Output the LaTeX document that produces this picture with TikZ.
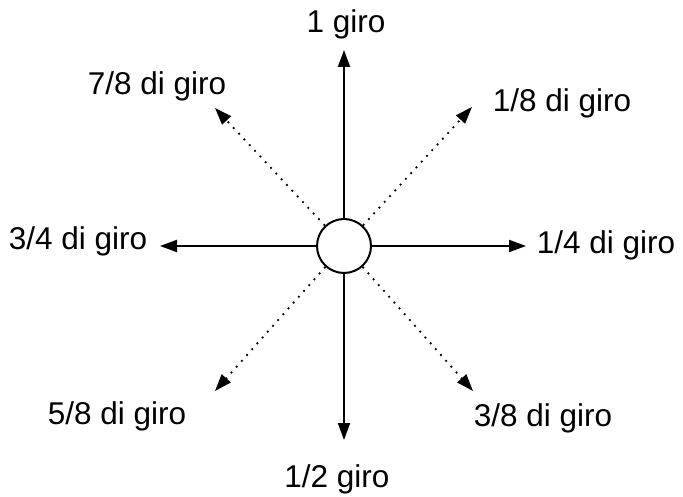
\documentclass[tikz,border=0pt]{standalone}
\usepackage{fontspec}
\setmainfont{Liberation Sans}
\usetikzlibrary{arrows.meta}

\begin{document}
\begin{tikzpicture}[x=1pt,y=-1pt,
  giro/.style={-{Triangle[length=17pt,width=12pt]},line width=2pt},
  mezzo/.style={-{Triangle[length=17pt,width=12pt]},line width=1.8pt,dash pattern=on 1.8pt off 6pt},
  etichetta/.style={anchor=base,inner sep=0pt,font=\fontsize{31.5}{37}\selectfont}]
\useasboundingbox (0,0) rectangle (683,497);
%================================================================
%	Tips
\coordinate (n)  at (344,50);
\coordinate (s)  at (344,440);
\coordinate (w)  at (160,246);
\coordinate (e)  at (526,246);
\coordinate (ne) at (472,107);
\coordinate (nw) at (215,108);
\coordinate (sw) at (215,391);
\coordinate (se) at (473,391);
%================================================================
%	Arrows
\node[circle,draw,line width=2pt,minimum size=54pt,inner sep=0pt] (c) at (344,246) {};
\draw[giro] (c) -- (n);
\draw[giro] (c) -- (s);
\draw[giro] (c) -- (w);
\draw[giro] (c) -- (e);
\draw[mezzo] (c) -- (ne);
\draw[mezzo] (c) -- (nw);
\draw[mezzo] (c) -- (sw);
\draw[mezzo] (c) -- (se);
%----------------------------------------------------------------
%	Labels
\node[etichetta] (l1) at (346,33) {1 giro};
\node[etichetta] (l2) at (562,112) {1/8 di giro};
\node[etichetta] (l3) at (606,254) {1/4 di giro};
\node[etichetta] (l4) at (543,426) {3/8 di giro};
\node[etichetta] (l5) at (337,487) {1/2 giro};
\node[etichetta] (l6) at (117,424) {5/8 di giro};
\node[etichetta] (l7) at (78,250) {3/4 di giro};
\node[etichetta] (l8) at (157,95) {7/8 di giro};
%================================================================
\end{tikzpicture}
\end{document}
